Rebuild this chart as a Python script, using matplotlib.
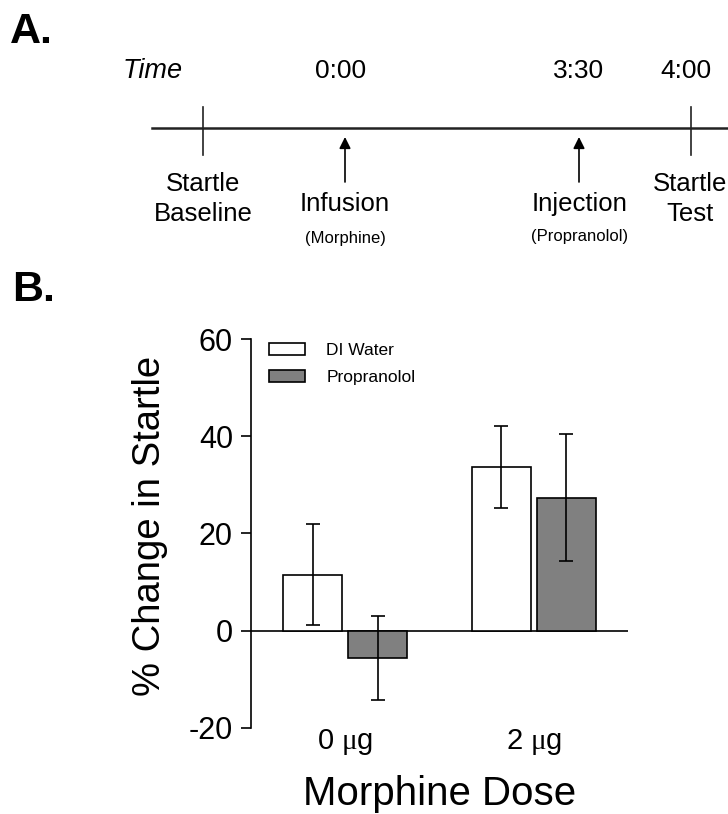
import matplotlib
matplotlib.use("Agg")
import matplotlib.pyplot as plt
import numpy as np

plt.rcParams['font.family'] = ['Liberation Sans', 'DejaVu Sans']
plt.rcParams['axes.unicode_minus'] = False
plt.rcParams['mathtext.fontset'] = 'custom'
plt.rcParams['mathtext.rm'] = 'Liberation Serif'

# panel B data (% change in startle, mean and SEM)
doses = [r'0 $\mathrm{\mu}$g', r'2 $\mathrm{\mu}$g']
di_water = [11.5, 33.7]
di_water_err = [10.4, 8.4]
propranolol = [-5.6, 27.4]
propranolol_err = [8.7, 13.0]

# panel A timeline
event_times = ['0:00', '3:30', '4:00']
event_names = ['Startle\nBaseline', 'Infusion', 'Injection', 'Startle\nTest']
event_drugs = ['(Morphine)', '(Propranolol)']

fig = plt.figure(figsize=(7.28, 8.14), dpi=100)

# ---- A. timeline, drawn in pixel coordinates
axa = fig.add_axes([0, 0, 1, 1])
axa.set_xlim(0, 728)
axa.set_ylim(814, 0)
axa.axis('off')

axa.text(10, 32, 'A.', fontsize=31, fontweight='bold', va='center', ha='left')
axa.text(12, 290, 'B.', fontsize=31, fontweight='bold', va='center', ha='left')

axa.text(123, 71, 'Time', fontsize=19.5, style='italic', va='center', ha='left')
for x, t in zip([341, 579, 686], event_times):
    axa.text(x, 71, t, fontsize=19, va='center', ha='center')

axa.plot([152, 728], [128, 128], color='#222222', lw=1.8)
for x in [203, 691]:
    axa.plot([x, x], [107, 155], color='#222222', lw=1.2)
for x in [345, 579]:
    axa.annotate('', xy=(x, 137), xytext=(x, 182),
                 arrowprops=dict(arrowstyle='-|>', color='black', lw=1.2,
                                 mutation_scale=17, shrinkA=0, shrinkB=0))

axa.text(203, 199, event_names[0], fontsize=18.5, va='center', ha='center',
         linespacing=1.35)
axa.text(345, 204, event_names[1], fontsize=18.5, va='center', ha='center')
axa.text(580, 204, event_names[2], fontsize=18.5, va='center', ha='center')
axa.text(690, 199, event_names[3], fontsize=18.5, va='center', ha='center',
         linespacing=1.35)
axa.text(345, 238, event_drugs[0], fontsize=12, va='center', ha='center')
axa.text(580, 237, event_drugs[1], fontsize=12, va='center', ha='center')

# ---- B. bar chart
ax = fig.add_axes([0.3448, 0.1057, 0.5178, 0.4778])
x = np.arange(len(doses))
w = 0.312
off = 0.172
ax.bar(x - off, di_water, w, color='white', edgecolor='black', lw=1.2,
       label='DI Water', zorder=2)
ax.bar(x + off, propranolol, w, color='#808080', edgecolor='black', lw=1.2,
       label='Propranolol', zorder=2)
ax.errorbar(x - off, di_water, yerr=di_water_err, fmt='none', ecolor='black',
            elinewidth=1.2, capsize=5, capthick=1.2, zorder=3)
ax.errorbar(x + off, propranolol, yerr=propranolol_err, fmt='none', ecolor='black',
            elinewidth=1.2, capsize=5, capthick=1.2, zorder=3)
ax.axhline(0, color='black', lw=1.2, zorder=1)

ax.set_xlim(-0.5, 1.5)
ax.set_ylim(-20, 60)
ax.set_yticks([-20, 0, 20, 40, 60])
ax.set_xticks(x)
ax.set_xticklabels(doses)
ax.tick_params(axis='x', length=0, pad=-1, labelsize=21)
ax.tick_params(axis='y', length=7, width=1.2, pad=6, labelsize=22, direction='out')
for s in ['top', 'right', 'bottom']:
    ax.spines[s].set_visible(False)
ax.spines['left'].set_linewidth(1.2)
ax.set_ylabel('% Change in Startle', fontsize=27.5)
ax.yaxis.set_label_coords(-0.22, 0.52)
ax.set_xlabel('Morphine Dose', fontsize=29, labelpad=13)

ax.legend(loc='upper left', bbox_to_anchor=(0.006, 1.03), frameon=False,
          fontsize=12.5, handlelength=2.1, handleheight=0.7,
          handletextpad=1.2, labelspacing=0.7)

fig.savefig('out.png', dpi=100)
